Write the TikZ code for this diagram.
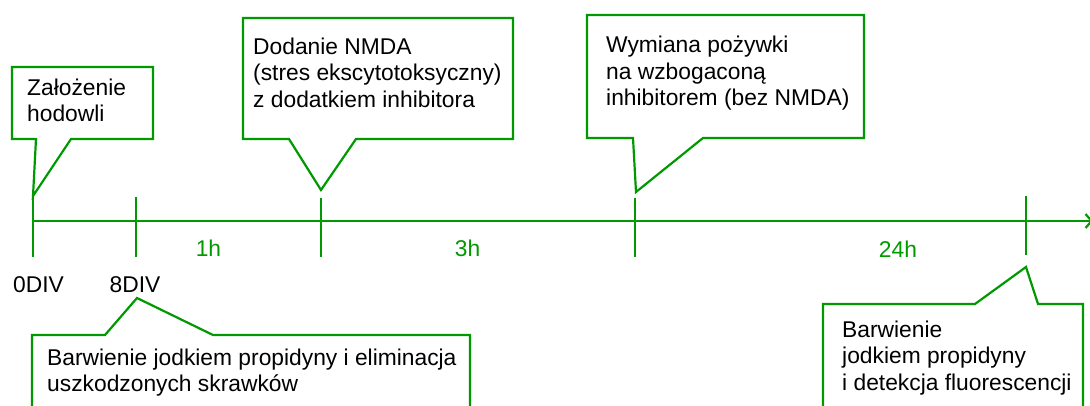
\documentclass[tikz,border=0pt]{standalone}
\usepackage{fontspec}
\setmainfont{Liberation Sans}
\usetikzlibrary{arrows.meta}
\definecolor{grn}{RGB}{0,153,0}
\begin{document}
\begin{tikzpicture}[x=1pt,y=-1pt,
  callout/.style={draw=grn, line width=2.2pt, fill=white, line join=miter},
  txt/.style={font=\fontsize{22.8}{26.5}\selectfont, align=left, anchor=base west, inner sep=0pt},
  lbl/.style={font=\fontsize{22.8}{26.5}\selectfont, anchor=base, inner sep=0pt},
  tickline/.style={draw=grn, line width=2.2pt},
  axis/.style={draw=grn, line width=2.2pt, -{Straight Barb[length=6pt,width=14pt,line width=2.2pt]}}]
\useasboundingbox (0,0) rectangle (1090,406);
\clip (0,0) rectangle (1090,406);
% timeline points
\coordinate (a0) at (33,221);
\coordinate (aend) at (1093,221);
\draw[axis] (a0) -- (aend);
% ticks
\draw[tickline] (33,197) -- (33,257);
\draw[tickline] (136,197) -- (136,257);
\draw[tickline] (321,198) -- (321,257);
\draw[tickline] (635,198) -- (635,257);
\draw[tickline] (1026,196) -- (1026,255);
% callout tips
\coordinate (p1) at (33,196);
\coordinate (p2) at (321,190);
\coordinate (p3) at (636,192);
\coordinate (p4) at (137,298);
\coordinate (p5) at (1026,267);
% callouts
\draw[callout] (12,67) -- (153,67) -- (153,139) -- (71,139) -- (p1) -- (36,139) -- (12,139) -- cycle;
\draw[callout] (243,18) -- (513,18) -- (513,139) -- (356,139) -- (p2) -- (289,139) -- (243,139) -- cycle;
\draw[callout] (587,15) -- (864,15) -- (864,138) -- (703,138) -- (p3) -- (633,138) -- (587,138) -- cycle;
\draw[callout] (32,335) -- (105,335) -- (p4) -- (213,335) -- (470,335) -- (470,430) -- (32,430) -- cycle;
\draw[callout] (823,304) -- (975,304) -- (p5) -- (1038,304) -- (1083,304) -- (1083,430) -- (823,430) -- cycle;
% texts (anchored at the baseline of the last line)
\node[txt] (n1) at (27,122) {Założenie\\hodowli};
\node[txt] (n2) at (253,107.5) {Dodanie NMDA\\(stres ekscytotoksyczny)\\z dodatkiem inhibitora};
\node[txt] (n3) at (606,106) {Wymiana pożywki\\na wzbogaconą\\inhibitorem (bez NMDA)};
\node[txt] (n4) at (47,391.5) {Barwienie jodkiem propidyny i eliminacja\\uszkodzonych skrawków};
\node[txt] (n5) at (842,390) {Barwienie\\jodkiem propidyny\\i detekcja fluorescencji};
% labels
\node[lbl] (d0) at (38.5,292) {0DIV};
\node[lbl] (d8) at (135,292) {8DIV};
\node[lbl, text=grn] (h1) at (208.5,257) {1h};
\node[lbl, text=grn] (h3) at (467.5,257) {3h};
\node[lbl, text=grn] (h24) at (898,258) {24h};
\end{tikzpicture}
\end{document}
